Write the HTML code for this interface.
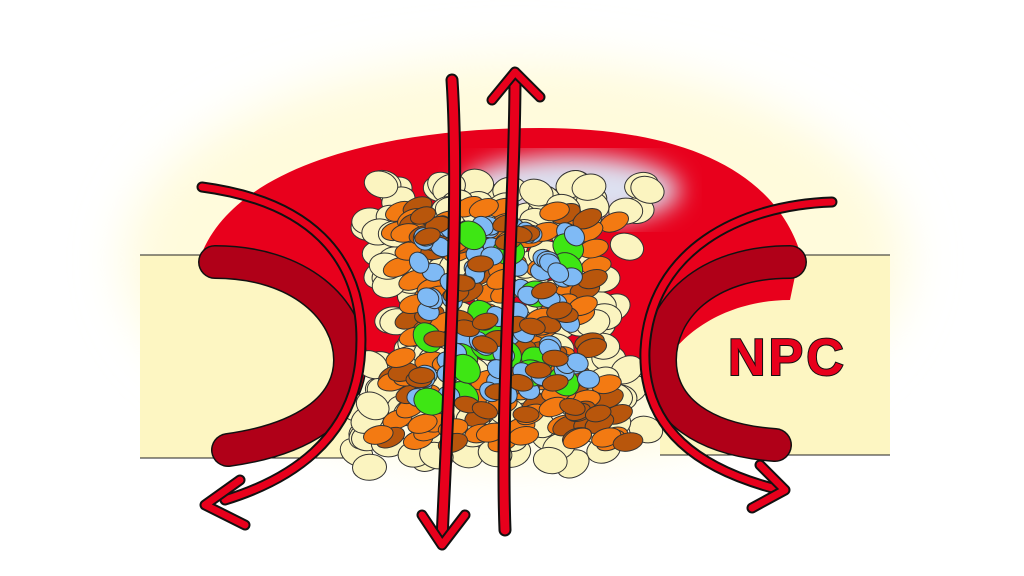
<!DOCTYPE html>
<html><head><style>
html,body{margin:0;padding:0;background:#fff;width:1024px;height:576px;overflow:hidden}
svg{display:block}
</style></head><body>
<svg width="1024" height="576" viewBox="0 0 1024 576" xmlns="http://www.w3.org/2000/svg">
<defs>
<filter id="bl" x="-30%" y="-30%" width="160%" height="160%"><feGaussianBlur stdDeviation="25"/></filter>
<filter id="bl2"><feGaussianBlur stdDeviation="12"/></filter>
</defs>
<rect width="1024" height="576" fill="#fff"/>
<ellipse cx="515" cy="260" rx="390" ry="200" fill="#fffbdc" filter="url(#bl)"/>
<rect x="140" y="255" width="215" height="203" fill="#fdf6c2"/>
<line x1="140" y1="255" x2="355" y2="255" stroke="#222" stroke-width="1"/>
<line x1="140" y1="458" x2="355" y2="458" stroke="#222" stroke-width="1"/>
<rect x="660" y="255" width="230" height="200" fill="#fdf6c2"/>
<line x1="660" y1="255" x2="890" y2="255" stroke="#222" stroke-width="1"/>
<line x1="660" y1="455" x2="890" y2="455" stroke="#222" stroke-width="1"/>
<path d="M200,258 C235,160 400,128 540,128 C690,128 775,175 800,252 L790,300 C730,300 680,330 660,372 L580,360 L430,360 L345,375 C330,320 290,265 200,258 Z" fill="#e8001c"/>
<ellipse cx="570" cy="190" rx="110" ry="35" fill="#dde0f0" filter="url(#bl2)"/>
<path d="M215,262 C300,262 350,310 350,360 C350,410 300,440 228,450" fill="none" stroke="#111" stroke-width="34" stroke-linecap="round"/>
<path d="M215,262 C300,262 350,310 350,360 C350,410 300,440 228,450" fill="none" stroke="#b00018" stroke-width="31" stroke-linecap="round"/>
<path d="M790,262 C705,262 660,310 660,360 C660,410 705,440 775,445" fill="none" stroke="#111" stroke-width="34" stroke-linecap="round"/>
<path d="M790,262 C705,262 660,310 660,360 C660,410 705,440 775,445" fill="none" stroke="#b00018" stroke-width="31" stroke-linecap="round"/>
<g id="blob" stroke="#333" stroke-width="1"></g>
<g stroke-linejoin="round" stroke-linecap="round">
<path d="M202,187 C300,200 370,250 360,360 C352,440 290,480 225,500" fill="none" stroke="#111" stroke-width="11"/>
<path d="M202,187 C300,200 370,250 360,360 C352,440 290,480 225,500" fill="none" stroke="#e8001c" stroke-width="7"/>
<path d="M240,480 L205,505 L245,525" fill="none" stroke="#111" stroke-width="11"/>
<path d="M240,480 L205,505 L245,525" fill="none" stroke="#e8001c" stroke-width="7"/>
<path d="M832,202 C740,205 650,250 645,350 C642,430 700,470 780,490" fill="none" stroke="#111" stroke-width="11"/>
<path d="M832,202 C740,205 650,250 645,350 C642,430 700,470 780,490" fill="none" stroke="#e8001c" stroke-width="7"/>
<path d="M760,465 L785,490 L752,508" fill="none" stroke="#111" stroke-width="11"/>
<path d="M760,465 L785,490 L752,508" fill="none" stroke="#e8001c" stroke-width="7"/>
<path d="M452,80 C460,200 448,400 442,540" fill="none" stroke="#111" stroke-width="13"/>
<path d="M452,80 C460,200 448,400 442,540" fill="none" stroke="#e8001c" stroke-width="9"/>
<path d="M422,515 L442,545 L465,515" fill="none" stroke="#111" stroke-width="11"/>
<path d="M422,515 L442,545 L465,515" fill="none" stroke="#e8001c" stroke-width="7"/>
<path d="M505,530 C500,400 515,200 515,75" fill="none" stroke="#111" stroke-width="13"/>
<path d="M505,530 C500,400 515,200 515,75" fill="none" stroke="#e8001c" stroke-width="9"/>
<path d="M492,100 L515,72 L540,97" fill="none" stroke="#111" stroke-width="11"/>
<path d="M492,100 L515,72 L540,97" fill="none" stroke="#e8001c" stroke-width="7"/>
</g>
<text x="728" y="375" font-family="Liberation Sans, sans-serif" font-weight="bold" font-size="52" fill="#e8001c" stroke="#111" stroke-width="2" paint-order="stroke" letter-spacing="3">NPC</text>
</svg>
<script>
var g=document.getElementById('blob');var s=7;function r(){s=(s*9301+49297)%233280;return s/233280;}
function add(cx,cy,rx,ry,c,a){var e=document.createElementNS('http://www.w3.org/2000/svg','ellipse');e.setAttribute('cx',cx);e.setAttribute('cy',cy);e.setAttribute('rx',rx);e.setAttribute('ry',ry);e.setAttribute('fill',c);e.setAttribute('transform','rotate('+a+' '+cx+' '+cy+')');g.appendChild(e);}
function hw(y){var t=(y-180)/290;return t<0.5?150-70*t:115+ (t-0.5)*100;}
function inside(x,y,m){return Math.abs(x-500)<hw(y)-m && y>182+m*0.5 && y<468-m*0.5;}
for(var i=0;i<260;i++){var x=340+r()*330,y=180+r()*290;if(inside(x,y,0))add(x,y,17,13,'#fbf4c0',r()*60-30);}
for(var i=0;i<200;i++){var x=360+r()*280,y=205+r()*240;if(inside(x,y,25)){var q=r();add(x,y,15,9,q<0.6?'#f37a12':'#b8560c',-25+r()*15);}}
for(var i=0;i<120;i++){var x=380+r()*240,y=225+r()*180;if(inside(x,y,45)){var q=r();add(x,y,q<0.85?11:16,q<0.85?9:13,q<0.85?'#7fbaf5':'#3ee614',r()*60);}}
for(var i=0;i<50;i++){var x=380+r()*240,y=215+r()*200;if(inside(x,y,40))add(x,y,13,8,'#b8560c',-20+r()*40);}
</script>
</body></html>
